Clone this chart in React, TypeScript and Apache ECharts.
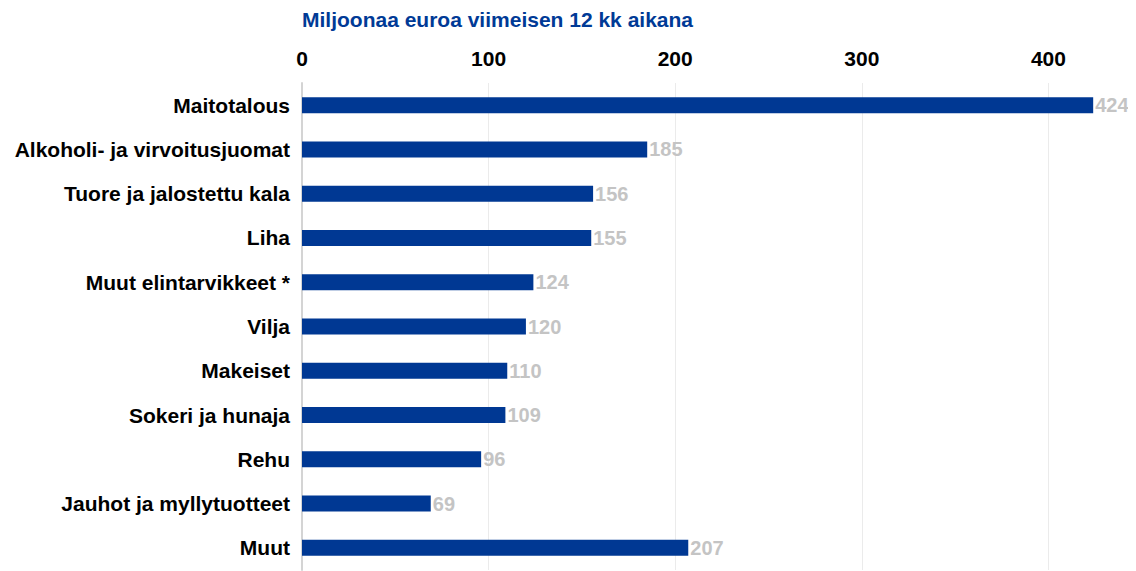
import React, { useEffect, useRef } from "react";
import * as echarts from "echarts";

const categories = [
  "Maitotalous",
  "Alkoholi- ja virvoitusjuomat",
  "Tuore ja jalostettu kala",
  "Liha",
  "Muut elintarvikkeet *",
  "Vilja",
  "Makeiset",
  "Sokeri ja hunaja",
  "Rehu",
  "Jauhot ja myllytuotteet",
  "Muut",
];
const values = [424, 185, 156, 155, 124, 120, 110, 109, 96, 69, 207];
const title = "Miljoonaa euroa viimeisen 12 kk aikana";

export default function App() {
  const ref = useRef<HTMLDivElement>(null);
  useEffect(() => {
    const chart = echarts.init(ref.current!, null, { renderer: "svg" });
    const font = "Liberation Sans, Arial, sans-serif";
    chart.setOption({
      animation: false,
      title: {
        text: title,
        left: 289,
        top: -4,
        textStyle: { color: "#003a96", fontSize: 21, fontWeight: "bold", fontFamily: font },
      },
      grid: { left: 294, top: 75, width: 4.3 * 186.6, height: 487, containLabel: false },
      xAxis: {
        type: "value",
        position: "top",
        min: 0,
        max: 430,
        interval: 100,
        axisLine: { show: false },
        axisTick: { show: false },
        axisLabel: {
          color: "#000",
          fontSize: 21,
          fontWeight: "bold",
          fontFamily: font,
          margin: 14,
          showMaxLabel: false,
        },
        splitLine: { show: true, showMaxLine: false, lineStyle: { color: "#ebebeb", width: 1 } },
      },
      yAxis: {
        type: "category",
        data: categories,
        inverse: true,
        axisLine: { show: true, lineStyle: { color: "#d4d4d4", width: 2 } },
        axisTick: { show: false },
        axisLabel: {
          color: "#000",
          fontSize: 21,
          fontWeight: "bold",
          fontFamily: font,
          margin: 12,
        },
      },
      series: [
        {
          type: "bar",
          data: values,
          barWidth: 16,
          itemStyle: { color: "#003893" },
          label: {
            show: true,
            position: "right",
            distance: 2,
            color: "#c4c4c4",
            fontSize: 20,
            fontWeight: "bold",
            fontFamily: font,
          },
        },
      ],
    });
    return () => chart.dispose();
  }, []);
  return <div ref={ref} style={{ width: 1128, height: 563 }} />;
}
